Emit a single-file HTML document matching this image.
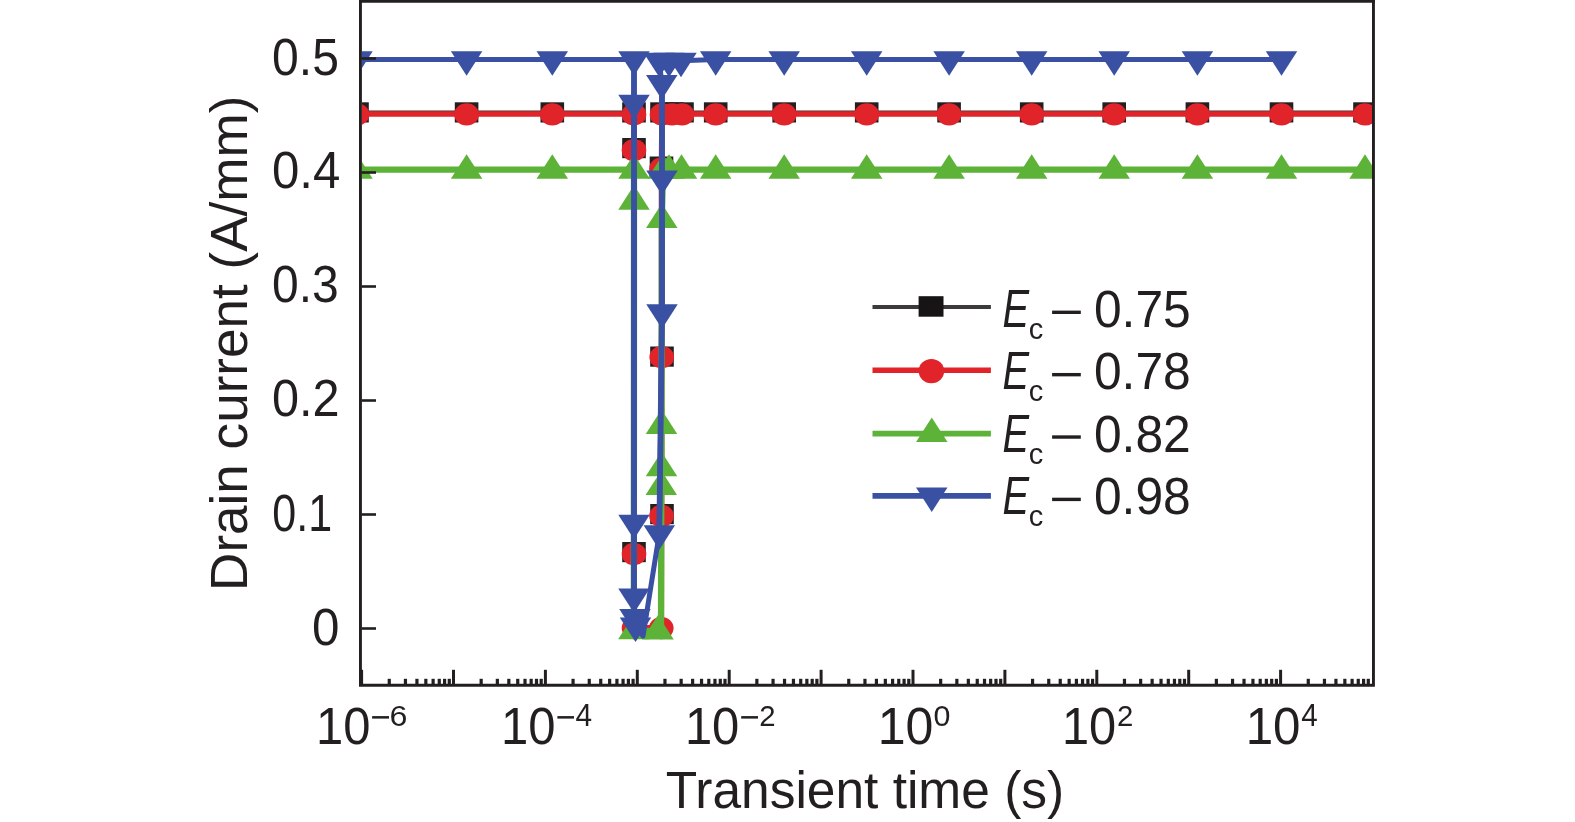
<!DOCTYPE html><html><head><meta charset="utf-8"><style>html,body{margin:0;padding:0;background:#fff;width:1575px;height:822px;overflow:hidden}svg{display:block;will-change:transform}text{font-family:"Liberation Sans",sans-serif}</style></head><body>
<svg width="1575" height="822" viewBox="0 0 1575 822">
<defs><clipPath id="pc"><rect x="362" y="2.6" width="1010" height="681"/></clipPath></defs>
<g clip-path="url(#pc)">
<g fill="#231f20"><polyline fill="none" stroke="#3a3435" stroke-width="2.8" stroke-linejoin="miter" points="357,111.9 466.6,111.9 552.3,111.9 634,111.9 634,148.5 634,552.5 634,626.5 662,626.5 662,514.5 662,357 661.5,167 662,111.9 672,111.9 682,111.9 715.7,111.9 784.2,111.9 866.7,111.9 949.1,111.9 1031.7,111.9 1114.2,111.9 1197.4,111.9 1281.5,111.9 1365,111.9"/>
<rect x="345.20" y="102.30" width="23.6" height="20.2"/>
<rect x="454.80" y="102.30" width="23.6" height="20.2"/>
<rect x="540.50" y="102.30" width="23.6" height="20.2"/>
<rect x="622.20" y="102.30" width="23.6" height="20.2"/>
<rect x="622.20" y="138.00" width="23.6" height="20.2"/>
<rect x="622.20" y="542.00" width="23.6" height="20.2"/>
<rect x="650.20" y="504.00" width="23.6" height="20.2"/>
<rect x="650.20" y="346.50" width="23.6" height="20.2"/>
<rect x="649.70" y="156.50" width="23.6" height="20.2"/>
<rect x="650.20" y="102.30" width="23.6" height="20.2"/>
<rect x="660.20" y="102.30" width="23.6" height="20.2"/>
<rect x="670.20" y="102.30" width="23.6" height="20.2"/>
<rect x="703.90" y="102.30" width="23.6" height="20.2"/>
<rect x="772.40" y="102.30" width="23.6" height="20.2"/>
<rect x="854.90" y="102.30" width="23.6" height="20.2"/>
<rect x="937.30" y="102.30" width="23.6" height="20.2"/>
<rect x="1019.90" y="102.30" width="23.6" height="20.2"/>
<rect x="1102.40" y="102.30" width="23.6" height="20.2"/>
<rect x="1185.60" y="102.30" width="23.6" height="20.2"/>
<rect x="1269.70" y="102.30" width="23.6" height="20.2"/>
<rect x="1353.20" y="102.30" width="23.6" height="20.2"/>
</g>
<g fill="#e1232a"><polyline fill="none" stroke="#e1232a" stroke-width="5.6" stroke-linejoin="miter" points="357,114.0 466.6,114.0 552.3,114.0 634,114.0 634,150 634,553.8 634,627.9 661.3,627.9 661.5,515.8 661.7,357 661.5,168.5 662,114.0 672,114.0 682,114.0 715.7,114.0 784.2,114.0 866.7,114.0 949.1,114.0 1031.7,114.0 1114.2,114.0 1197.4,114.0 1281.5,114.0 1365,114.0"/>
<ellipse cx="357.00" cy="114.40" rx="12.3" ry="11.2"/>
<ellipse cx="466.60" cy="114.40" rx="12.3" ry="11.2"/>
<ellipse cx="552.30" cy="114.40" rx="12.3" ry="11.2"/>
<ellipse cx="634.00" cy="114.40" rx="12.3" ry="11.2"/>
<ellipse cx="634.00" cy="150.20" rx="12.3" ry="11.2"/>
<ellipse cx="634.00" cy="554.00" rx="12.3" ry="11.2"/>
<ellipse cx="634.00" cy="628.10" rx="12.3" ry="11.2"/>
<ellipse cx="661.30" cy="628.10" rx="12.3" ry="11.2"/>
<ellipse cx="661.50" cy="516.00" rx="12.3" ry="11.2"/>
<ellipse cx="661.70" cy="357.20" rx="12.3" ry="11.2"/>
<ellipse cx="661.50" cy="168.70" rx="12.3" ry="11.2"/>
<ellipse cx="662.00" cy="114.40" rx="12.3" ry="11.2"/>
<ellipse cx="672.00" cy="114.40" rx="12.3" ry="11.2"/>
<ellipse cx="682.00" cy="114.40" rx="12.3" ry="11.2"/>
<ellipse cx="715.70" cy="114.40" rx="12.3" ry="11.2"/>
<ellipse cx="784.20" cy="114.40" rx="12.3" ry="11.2"/>
<ellipse cx="866.70" cy="114.40" rx="12.3" ry="11.2"/>
<ellipse cx="949.10" cy="114.40" rx="12.3" ry="11.2"/>
<ellipse cx="1031.70" cy="114.40" rx="12.3" ry="11.2"/>
<ellipse cx="1114.20" cy="114.40" rx="12.3" ry="11.2"/>
<ellipse cx="1197.40" cy="114.40" rx="12.3" ry="11.2"/>
<ellipse cx="1281.50" cy="114.40" rx="12.3" ry="11.2"/>
<ellipse cx="1365.00" cy="114.40" rx="12.3" ry="11.2"/>
</g>
<g fill="#5cb337"><polyline fill="none" stroke="#5cb337" stroke-width="6.3" stroke-linejoin="miter" points="357,169.6 466.6,169.6 552.3,169.6 634,169.6 634,201.5 633.85,631 661,631.3 661.3,486.8 661.5,468 661.5,425.8 661.8,219.9 663,169.6 669,169.6 681.5,169.6 715.7,169.6 784.2,169.6 866.7,169.6 949.1,169.6 1031.7,169.6 1114.2,169.6 1197.4,169.6 1281.5,169.6 1365,169.6"/>
<path d="M341.25,178.77H372.75L357.00,154.27Z"/>
<path d="M450.85,178.77H482.35L466.60,154.27Z"/>
<path d="M536.55,178.77H568.05L552.30,154.27Z"/>
<path d="M618.25,178.77H649.75L634.00,154.27Z"/>
<path d="M618.25,209.67H649.75L634.00,185.17Z"/>
<path d="M618.10,639.17H649.60L633.85,614.67Z"/>
<path d="M642.25,639.47H673.75L658.00,614.97Z"/>
<path d="M645.55,494.97H677.05L661.30,470.47Z"/>
<path d="M645.75,476.17H677.25L661.50,451.67Z"/>
<path d="M645.75,433.97H677.25L661.50,409.47Z"/>
<path d="M646.05,228.07H677.55L661.80,203.57Z"/>
<path d="M647.25,178.77H678.75L663.00,154.27Z"/>
<path d="M653.25,178.77H684.75L669.00,154.27Z"/>
<path d="M665.75,178.77H697.25L681.50,154.27Z"/>
<path d="M699.95,178.77H731.45L715.70,154.27Z"/>
<path d="M768.45,178.77H799.95L784.20,154.27Z"/>
<path d="M850.95,178.77H882.45L866.70,154.27Z"/>
<path d="M933.35,178.77H964.85L949.10,154.27Z"/>
<path d="M1015.95,178.77H1047.45L1031.70,154.27Z"/>
<path d="M1098.45,178.77H1129.95L1114.20,154.27Z"/>
<path d="M1181.65,178.77H1213.15L1197.40,154.27Z"/>
<path d="M1265.75,178.77H1297.25L1281.50,154.27Z"/>
<path d="M1349.25,178.77H1380.75L1365.00,154.27Z"/>
</g>
<g fill="#3a51a3"><polyline fill="none" stroke="#3a51a3" stroke-width="5.0" stroke-linejoin="round" points="357,59.5 466.6,59.5 552.3,59.5 634,59.5 634,103 634,522.8 634,596.7 635,617.1 635.5,625.7 643,636 659.3,533.5 662,312.3 662,178.6 661.8,83.2 659.3,60.8 669,60.8 681,60.8 715.7,59.5 784.2,59.5 866.7,59.5 949.1,59.5 1031.7,59.5 1114.2,59.5 1197.4,59.5 1281.5,59.5"/>
<path d="M634,59.5V596.7M662,83.2V312.3L659.3,533.5" stroke="#3a51a3" stroke-width="5.8" fill="none"/>
<path d="M341.25,51.33H372.75L357.00,75.83Z"/>
<path d="M450.85,51.33H482.35L466.60,75.83Z"/>
<path d="M536.55,51.33H568.05L552.30,75.83Z"/>
<path d="M618.25,51.33H649.75L634.00,75.83Z"/>
<path d="M618.25,94.83H649.75L634.00,119.33Z"/>
<path d="M618.25,514.63H649.75L634.00,539.13Z"/>
<path d="M618.25,588.53H649.75L634.00,613.03Z"/>
<path d="M619.25,608.93H650.75L635.00,633.43Z"/>
<path d="M619.75,617.53H651.25L635.50,642.03Z"/>
<path d="M643.55,525.33H675.05L659.30,549.83Z"/>
<path d="M646.25,304.13H677.75L662.00,328.63Z"/>
<path d="M646.25,170.43H677.75L662.00,194.93Z"/>
<path d="M646.05,75.03H677.55L661.80,99.53Z"/>
<path d="M643.55,52.63H675.05L659.30,77.13Z"/>
<path d="M653.25,52.63H684.75L669.00,77.13Z"/>
<path d="M665.25,52.63H696.75L681.00,77.13Z"/>
<path d="M699.95,51.33H731.45L715.70,75.83Z"/>
<path d="M768.45,51.33H799.95L784.20,75.83Z"/>
<path d="M850.95,51.33H882.45L866.70,75.83Z"/>
<path d="M933.35,51.33H964.85L949.10,75.83Z"/>
<path d="M1015.95,51.33H1047.45L1031.70,75.83Z"/>
<path d="M1098.45,51.33H1129.95L1114.20,75.83Z"/>
<path d="M1181.65,51.33H1213.15L1197.40,75.83Z"/>
<path d="M1265.75,51.33H1297.25L1281.50,75.83Z"/>
</g>
</g>
<g stroke="#231f20" fill="none">
<path d="M360.45,0V685.25H1373.45V0" stroke-width="2.9"/>
<path d="M359,1.35H1375" stroke-width="2.7"/>
<path d="M361.5,628.5H376" stroke-width="2.6"/>
<path d="M361.5,514.5H376" stroke-width="2.6"/>
<path d="M361.5,400.5H376" stroke-width="2.6"/>
<path d="M361.5,286.5H376" stroke-width="2.6"/>
<path d="M361.5,172.5H376" stroke-width="2.6"/>
<path d="M361.5,58.5H376" stroke-width="2.6"/>
<path d="M361.60,685V669.8" stroke-width="3.0"/>
<path d="M389.26,685V678.8" stroke-width="3.2"/>
<path d="M405.45,685V678.8" stroke-width="3.2"/>
<path d="M416.93,685V678.8" stroke-width="3.2"/>
<path d="M425.84,685V678.8" stroke-width="3.2"/>
<path d="M433.11,685V678.8" stroke-width="3.2"/>
<path d="M439.26,685V678.8" stroke-width="3.2"/>
<path d="M444.59,685V678.8" stroke-width="3.2"/>
<path d="M449.29,685V678.8" stroke-width="3.2"/>
<path d="M453.50,685V669.8" stroke-width="3.0"/>
<path d="M481.16,685V678.8" stroke-width="3.2"/>
<path d="M497.35,685V678.8" stroke-width="3.2"/>
<path d="M508.83,685V678.8" stroke-width="3.2"/>
<path d="M517.74,685V678.8" stroke-width="3.2"/>
<path d="M525.01,685V678.8" stroke-width="3.2"/>
<path d="M531.16,685V678.8" stroke-width="3.2"/>
<path d="M536.49,685V678.8" stroke-width="3.2"/>
<path d="M541.19,685V678.8" stroke-width="3.2"/>
<path d="M545.40,685V669.8" stroke-width="3.0"/>
<path d="M573.06,685V678.8" stroke-width="3.2"/>
<path d="M589.25,685V678.8" stroke-width="3.2"/>
<path d="M600.73,685V678.8" stroke-width="3.2"/>
<path d="M609.64,685V678.8" stroke-width="3.2"/>
<path d="M616.91,685V678.8" stroke-width="3.2"/>
<path d="M623.06,685V678.8" stroke-width="3.2"/>
<path d="M628.39,685V678.8" stroke-width="3.2"/>
<path d="M633.09,685V678.8" stroke-width="3.2"/>
<path d="M637.30,685V669.8" stroke-width="3.0"/>
<path d="M664.96,685V678.8" stroke-width="3.2"/>
<path d="M681.15,685V678.8" stroke-width="3.2"/>
<path d="M692.63,685V678.8" stroke-width="3.2"/>
<path d="M701.54,685V678.8" stroke-width="3.2"/>
<path d="M708.81,685V678.8" stroke-width="3.2"/>
<path d="M714.96,685V678.8" stroke-width="3.2"/>
<path d="M720.29,685V678.8" stroke-width="3.2"/>
<path d="M724.99,685V678.8" stroke-width="3.2"/>
<path d="M729.20,685V669.8" stroke-width="3.0"/>
<path d="M756.86,685V678.8" stroke-width="3.2"/>
<path d="M773.05,685V678.8" stroke-width="3.2"/>
<path d="M784.53,685V678.8" stroke-width="3.2"/>
<path d="M793.44,685V678.8" stroke-width="3.2"/>
<path d="M800.71,685V678.8" stroke-width="3.2"/>
<path d="M806.86,685V678.8" stroke-width="3.2"/>
<path d="M812.19,685V678.8" stroke-width="3.2"/>
<path d="M816.89,685V678.8" stroke-width="3.2"/>
<path d="M821.10,685V669.8" stroke-width="3.0"/>
<path d="M848.76,685V678.8" stroke-width="3.2"/>
<path d="M864.95,685V678.8" stroke-width="3.2"/>
<path d="M876.43,685V678.8" stroke-width="3.2"/>
<path d="M885.34,685V678.8" stroke-width="3.2"/>
<path d="M892.61,685V678.8" stroke-width="3.2"/>
<path d="M898.76,685V678.8" stroke-width="3.2"/>
<path d="M904.09,685V678.8" stroke-width="3.2"/>
<path d="M908.79,685V678.8" stroke-width="3.2"/>
<path d="M913.00,685V669.8" stroke-width="3.0"/>
<path d="M940.66,685V678.8" stroke-width="3.2"/>
<path d="M956.85,685V678.8" stroke-width="3.2"/>
<path d="M968.33,685V678.8" stroke-width="3.2"/>
<path d="M977.24,685V678.8" stroke-width="3.2"/>
<path d="M984.51,685V678.8" stroke-width="3.2"/>
<path d="M990.66,685V678.8" stroke-width="3.2"/>
<path d="M995.99,685V678.8" stroke-width="3.2"/>
<path d="M1000.69,685V678.8" stroke-width="3.2"/>
<path d="M1004.90,685V669.8" stroke-width="3.0"/>
<path d="M1032.56,685V678.8" stroke-width="3.2"/>
<path d="M1048.75,685V678.8" stroke-width="3.2"/>
<path d="M1060.23,685V678.8" stroke-width="3.2"/>
<path d="M1069.14,685V678.8" stroke-width="3.2"/>
<path d="M1076.41,685V678.8" stroke-width="3.2"/>
<path d="M1082.56,685V678.8" stroke-width="3.2"/>
<path d="M1087.89,685V678.8" stroke-width="3.2"/>
<path d="M1092.59,685V678.8" stroke-width="3.2"/>
<path d="M1096.80,685V669.8" stroke-width="3.0"/>
<path d="M1124.46,685V678.8" stroke-width="3.2"/>
<path d="M1140.65,685V678.8" stroke-width="3.2"/>
<path d="M1152.13,685V678.8" stroke-width="3.2"/>
<path d="M1161.04,685V678.8" stroke-width="3.2"/>
<path d="M1168.31,685V678.8" stroke-width="3.2"/>
<path d="M1174.46,685V678.8" stroke-width="3.2"/>
<path d="M1179.79,685V678.8" stroke-width="3.2"/>
<path d="M1184.49,685V678.8" stroke-width="3.2"/>
<path d="M1188.70,685V669.8" stroke-width="3.0"/>
<path d="M1216.36,685V678.8" stroke-width="3.2"/>
<path d="M1232.55,685V678.8" stroke-width="3.2"/>
<path d="M1244.03,685V678.8" stroke-width="3.2"/>
<path d="M1252.94,685V678.8" stroke-width="3.2"/>
<path d="M1260.21,685V678.8" stroke-width="3.2"/>
<path d="M1266.36,685V678.8" stroke-width="3.2"/>
<path d="M1271.69,685V678.8" stroke-width="3.2"/>
<path d="M1276.39,685V678.8" stroke-width="3.2"/>
<path d="M1280.60,685V669.8" stroke-width="3.0"/>
<path d="M1308.26,685V678.8" stroke-width="3.2"/>
<path d="M1324.45,685V678.8" stroke-width="3.2"/>
<path d="M1335.93,685V678.8" stroke-width="3.2"/>
<path d="M1344.84,685V678.8" stroke-width="3.2"/>
<path d="M1352.11,685V678.8" stroke-width="3.2"/>
<path d="M1358.26,685V678.8" stroke-width="3.2"/>
<path d="M1363.59,685V678.8" stroke-width="3.2"/>
<path d="M1368.29,685V678.8" stroke-width="3.2"/>
</g>
<g transform="translate(272.08,75.28) scale(0.4809,0.5225)" fill="#231f20"><text font-size="100">0.5</text></g>
<g transform="translate(272.03,188.27) scale(0.4917,0.5268)" fill="#231f20"><text font-size="100">0.4</text></g>
<g transform="translate(272.08,301.98) scale(0.4802,0.5225)" fill="#231f20"><text font-size="100">0.3</text></g>
<g transform="translate(272.06,415.98) scale(0.4862,0.5225)" fill="#231f20"><text font-size="100">0.2</text></g>
<g transform="translate(272.28,530.98) scale(0.4300,0.5183)" fill="#231f20"><text font-size="100">0.1</text></g>
<g transform="translate(312.12,644.98) scale(0.4937,0.5183)" fill="#231f20"><text font-size="100">0</text></g>
<g transform="translate(315.98,744.18) scale(0.4899,0.5197)" fill="#231f20"><text font-size="100">10</text></g>
<g transform="translate(500.94,744.18) scale(0.4903,0.5197)" fill="#231f20"><text font-size="100">10</text></g>
<g transform="translate(684.88,744.18) scale(0.4899,0.5197)" fill="#231f20"><text font-size="100">10</text></g>
<g transform="translate(877.69,744.18) scale(0.5010,0.5197)" fill="#231f20"><text font-size="100">10</text></g>
<g transform="translate(1061.90,744.18) scale(0.4879,0.5197)" fill="#231f20"><text font-size="100">10</text></g>
<g transform="translate(1245.66,744.18) scale(0.4929,0.5197)" fill="#231f20"><text font-size="100">10</text></g>
<g transform="translate(389.39,726.00) scale(0.3217,0.3014)" fill="#231f20"><text font-size="100">6</text></g>
<g transform="translate(575.40,726.31) scale(0.2980,0.3103)" fill="#231f20"><text font-size="100">4</text></g>
<g transform="translate(759.23,726.00) scale(0.2935,0.3014)" fill="#231f20"><text font-size="100">2</text></g>
<g transform="translate(933.38,725.70) scale(0.3042,0.2979)" fill="#231f20"><text font-size="100">0</text></g>
<g transform="translate(1117.03,726.00) scale(0.2935,0.3014)" fill="#231f20"><text font-size="100">2</text></g>
<g transform="translate(1301.21,726.31) scale(0.2961,0.3103)" fill="#231f20"><text font-size="100">4</text></g>
<rect x="372.1" y="716.1" width="16.9" height="2.5" fill="#231f20"/>
<rect x="557.4" y="716.1" width="16.6" height="2.5" fill="#231f20"/>
<rect x="741.2" y="716.1" width="16.8" height="2.5" fill="#231f20"/>
<g transform="translate(665.77,808.00) scale(0.5146,0.5130)" fill="#231f20"><text font-size="100">Transient time (s)</text></g>
<g transform="translate(246.90,590.95) scale(0.5130,0.5308)" fill="#231f20"><text font-size="100" transform="rotate(-90)">Drain current (A/mm)</text></g>
<g fill="#3c3a3b"><path d="M872.5,307.0H990.9" stroke="#3c3a3b" stroke-width="3.8"/>
<rect x="918.60" y="296.20" width="24.9" height="20.5" fill="#161415"/>
</g>
<g transform="translate(1002.50,326.80) scale(0.3985,0.5348)" fill="#231f20"><text font-size="100" font-style="italic">E</text></g>
<g transform="translate(1028.64,338.81) scale(0.2907,0.2909)" fill="#231f20"><text font-size="100">c</text></g>
<g transform="translate(1093.91,326.88) scale(0.4978,0.5169)" fill="#231f20"><text font-size="100">0.75</text></g>
<rect x="1052.1" y="310.60" width="28.7" height="3.4" fill="#231f20"/>
<g fill="#e1232a"><path d="M872.5,370.3H990.9" stroke="#e1232a" stroke-width="5.6"/>
<ellipse cx="931.4" cy="371.1" rx="12.8" ry="12.1"/>
</g>
<g transform="translate(1002.50,389.17) scale(0.3985,0.5348)" fill="#231f20"><text font-size="100" font-style="italic">E</text></g>
<g transform="translate(1028.64,401.18) scale(0.2907,0.2909)" fill="#231f20"><text font-size="100">c</text></g>
<g transform="translate(1093.91,389.25) scale(0.4978,0.5169)" fill="#231f20"><text font-size="100">0.78</text></g>
<rect x="1052.1" y="372.97" width="28.7" height="3.4" fill="#231f20"/>
<g fill="#5cb337"><path d="M872.5,433.6H990.9" stroke="#5cb337" stroke-width="5.6"/>
<path d="M916,442H947.5L931.75,417.6Z"/>
</g>
<g transform="translate(1002.50,451.54) scale(0.3985,0.5348)" fill="#231f20"><text font-size="100" font-style="italic">E</text></g>
<g transform="translate(1028.64,463.55) scale(0.2907,0.2909)" fill="#231f20"><text font-size="100">c</text></g>
<g transform="translate(1093.91,451.62) scale(0.4978,0.5169)" fill="#231f20"><text font-size="100">0.82</text></g>
<rect x="1052.1" y="435.34" width="28.7" height="3.4" fill="#231f20"/>
<g fill="#3a51a3"><path d="M872.5,495.9H990.9" stroke="#3a51a3" stroke-width="5.6"/>
<path d="M916,487.5H947.5L931.75,512Z"/>
</g>
<g transform="translate(1002.50,513.90) scale(0.3985,0.5348)" fill="#231f20"><text font-size="100" font-style="italic">E</text></g>
<g transform="translate(1028.64,525.91) scale(0.2907,0.2909)" fill="#231f20"><text font-size="100">c</text></g>
<g transform="translate(1093.91,513.98) scale(0.4978,0.5169)" fill="#231f20"><text font-size="100">0.98</text></g>
<rect x="1052.1" y="497.70" width="28.7" height="3.4" fill="#231f20"/>
</svg></body></html>
